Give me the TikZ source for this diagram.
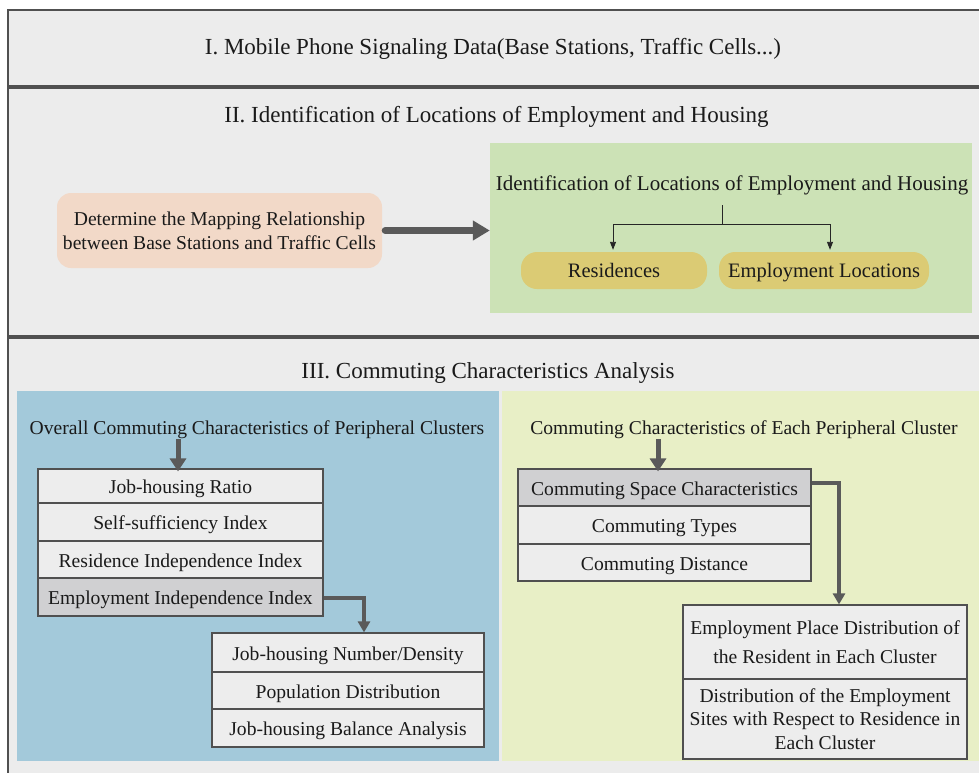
\documentclass[tikz,border=0pt]{standalone}
\usepackage{fontspec}
\setmainfont{Liberation Serif}
\usetikzlibrary{arrows.meta}
\definecolor{secbg}{HTML}{ECECEC}
\definecolor{secline}{HTML}{505050}
\definecolor{orangebg}{HTML}{F2D9C8}
\definecolor{greenbg}{HTML}{CCE2B6}
\definecolor{goldbg}{HTML}{DBCB74}
\definecolor{bluebg}{HTML}{A3C9DA}
\definecolor{yellowbg}{HTML}{E8EFC6}
\definecolor{rowbg}{HTML}{EDEDED}
\definecolor{rowhl}{HTML}{D0D0D2}
\definecolor{rowline}{HTML}{505050}
\definecolor{arrowgray}{HTML}{5A5A5A}
\definecolor{txt}{HTML}{1A1A1A}
\begin{document}
\begin{tikzpicture}[x=1pt,y=-1pt,
  secbox/.style={fill=secbg,draw=secline,line width=1.3pt},
  headtxt/.style={text=txt,font=\fontsize{23}{27}\selectfont,inner sep=0pt,text height=17.4pt,text depth=2.6pt},
  bodytxt/.style={text=txt,font=\fontsize{19.6}{24}\selectfont,inner sep=0pt,text height=16pt,text depth=1pt},
  multitxt/.style={text=txt,font=\fontsize{19.6}{24}\selectfont,inner sep=0pt,align=center},
  panel/.style={inner sep=0pt,draw=none},
  rowbox/.style={draw=rowline,line width=1.2pt,fill=rowbg,text=txt,font=\fontsize{19.6}{24}\selectfont,inner sep=0pt,text height=16pt,text depth=1pt},
  rowhlbox/.style={rowbox,fill=rowhl},
  pill/.style={fill=goldbg,rounded corners=16pt,text=txt,font=\fontsize{20.5}{24}\selectfont,inner sep=0pt,minimum height=37pt,text height=15.7pt,text depth=2.1pt},
  bigarrow/.style={draw=arrowgray,line width=7pt,line cap=round,-{Triangle[length=17pt,width=19pt]}},
  midarrow/.style={draw=arrowgray,line width=5pt,-{Triangle[length=13pt,width=16pt]}},
  connarrow/.style={draw=arrowgray,line width=3.5pt,-{Triangle[length=11pt,width=12pt]}},
  thinarrow/.style={draw=black!85,line width=0.9pt,-{Triangle[length=8pt,width=6pt]}}
]
\useasboundingbox (0,0) rectangle (979,772);
\fill[white] (0,0) rectangle (979,772);
\clip (0,0) rectangle (979,772);

% ---------- Section I ----------
\draw[secbox] (8,10) rectangle (995,86);
\node[headtxt] (h1) at (493,47) {I. Mobile Phone Signaling Data(Base Stations, Traffic Cells...)};

% ---------- Section II ----------
\draw[secbox] (8,88) rectangle (995,336);
\node[headtxt] (h2) at (496.5,115) {II. Identification of Locations of Employment and Housing};

\node[fill=orangebg,rounded corners=14pt,minimum width=325pt,minimum height=75pt,inner sep=0pt] (map) at (219.5,230.5) {};
\node[multitxt] (maptxt) at (219.5,231) {Determine the Mapping Relationship\\between Base Stations and Traffic Cells};

\node[panel,fill=greenbg,minimum width=482pt,minimum height=170pt] (idbox) at (731,228) {};
\node[text=txt,font=\fontsize{21}{25}\selectfont,inner sep=0pt,text height=17pt,text depth=1.2pt] (idtitle) at (732,183) {Identification of Locations of Employment and Housing};
\node[pill,minimum width=186pt] (res) at (614,270.5) {Residences};
\node[pill,minimum width=210pt] (emp) at (824,270.5) {Employment Locations};

\coordinate (treetop) at (722,205);
\coordinate (split) at (722,224);
\draw[draw=black!85,line width=0.9pt] (treetop) -- (split);
\draw[thinarrow] (split) -| ([shift={(-1,-2)}]res.north);
\draw[thinarrow] (split) -| ([shift={(6,-2)}]emp.north);

\draw[bigarrow] ([xshift=3]map.east) -- (idbox.west |- map.east);

% ---------- Section III ----------
\draw[secbox] (8,338) rectangle (995,795);
\node[headtxt] (h3) at (488,371) {III. Commuting Characteristics Analysis};

\node[panel,fill=bluebg,minimum width=482pt,minimum height=370pt] (blue) at (258,576) {};
\node[panel,fill=yellowbg,minimum width=490pt,minimum height=370pt] (yellow) at (747,576) {};

% left panel
\node[bodytxt] (ovt) at (257,427) {Overall Commuting Characteristics of Peripheral Clusters};
\node[rowbox,minimum width=285pt,minimum height=34pt] (r1) at (180.5,486) {Job-housing Ratio};
\node[rowbox,minimum width=285pt,minimum height=38pt] (r2) at (180.5,522) {Self-sufficiency Index};
\node[rowbox,minimum width=285pt,minimum height=37pt] (r3) at (180.5,559.5) {Residence Independence Index};
\node[rowhlbox,minimum width=285pt,minimum height=38pt] (r4) at (180.5,597) {Employment Independence Index};

\node[rowbox,minimum width=272pt,minimum height=39pt] (p1) at (348,652.5) {Job-housing Number/Density};
\node[rowbox,minimum width=272pt,minimum height=37pt] (p2) at (348,690.5) {Population Distribution};
\node[rowbox,minimum width=272pt,minimum height=38pt] (p3) at (348,728) {Job-housing Balance Analysis};

\coordinate (ovarr) at (178,439);
\draw[midarrow] (ovarr) -- ([xshift=-2.5,yshift=-3]r1.north);
\draw[connarrow] ([yshift=-1]r4.east) -| ([xshift=16]p1.north);

% right panel
\node[bodytxt] (eat) at (744,427) {Commuting Characteristics of Each Peripheral Cluster};
\node[rowhlbox,minimum width=293pt,minimum height=37pt] (s1) at (664.5,487.5) {Commuting Space Characteristics};
\node[rowbox,minimum width=293pt,minimum height=38pt] (s2) at (664.5,525) {Commuting Types};
\node[rowbox,minimum width=293pt,minimum height=37pt] (s3) at (664.5,562.5) {Commuting Distance};

\node[rowbox,minimum width=284pt,minimum height=74pt,text height=,text depth=,align=center,font=\fontsize{19.6}{29}\selectfont] (d1) at (825,642) {Employment Place Distribution of\\the Resident in Each Cluster};
\node[rowbox,minimum width=284pt,minimum height=80pt,text height=,text depth=,align=center,font=\fontsize{19.6}{23.5}\selectfont] (d2) at (825,719) {Distribution of the Employment\\Sites with Respect to Residence in\\Each Cluster};

\coordinate (eaarr) at (658,439);
\draw[midarrow] (eaarr) -- ([xshift=-6.5,yshift=-3]s1.north);
\draw[connarrow] ([yshift=4.5]s1.east) -| ([xshift=14]d1.north);
\end{tikzpicture}
\end{document}
